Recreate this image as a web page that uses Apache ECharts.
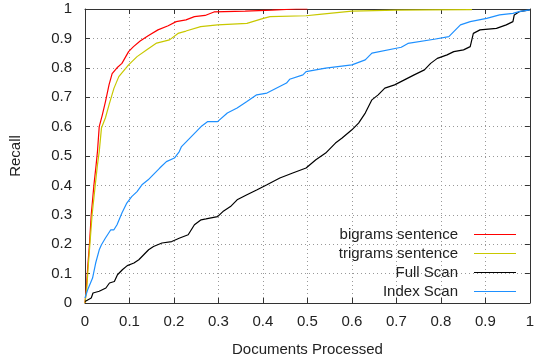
<!DOCTYPE html>
<html>
<head>
<meta charset="utf-8">
<script src="https://cdn.jsdelivr.net/npm/echarts@6/dist/echarts.min.js"></script>
<style>
  html, body { margin: 0; padding: 0; background: #fff; }
  #chart { width: 537px; height: 364px; }
</style>
</head>
<body>
<div id="chart"></div>
<script>
// recall vs fraction of documents processed, [x, y]
var bigramsData = [[0,0],[0.003,0.05],[0.006,0.12],[0.01,0.2],[0.014,0.3],[0.02,0.4],[0.025,0.47],[0.028,0.515],[0.032,0.6],[0.039,0.64],[0.046,0.685],[0.054,0.742],[0.061,0.78],[0.072,0.8],[0.083,0.815],[0.098,0.855],[0.109,0.872],[0.124,0.891],[0.142,0.909],[0.164,0.929],[0.187,0.943],[0.205,0.957],[0.227,0.963],[0.246,0.974],[0.27,0.978],[0.29,0.99],[0.36,0.993],[0.42,0.996],[0.475,1],[0.5,1]];
var trigramsData = [[0,0],[0.004,0.05],[0.007,0.12],[0.011,0.2],[0.016,0.3],[0.023,0.4],[0.028,0.47],[0.032,0.515],[0.037,0.595],[0.046,0.63],[0.054,0.674],[0.065,0.73],[0.076,0.77],[0.098,0.81],[0.117,0.838],[0.139,0.861],[0.161,0.884],[0.19,0.895],[0.209,0.917],[0.227,0.925],[0.26,0.94],[0.298,0.946],[0.364,0.951],[0.401,0.968],[0.416,0.974],[0.497,0.977],[0.527,0.982],[0.6,0.993],[0.7,0.996],[0.77,0.997],[0.87,0.998]];
var fullScanData = [[0,0.005],[0.014,0.017],[0.018,0.034],[0.032,0.04],[0.047,0.051],[0.055,0.068],[0.066,0.073],[0.073,0.096],[0.084,0.113],[0.095,0.127],[0.11,0.136],[0.121,0.147],[0.132,0.164],[0.143,0.181],[0.154,0.192],[0.173,0.204],[0.195,0.209],[0.213,0.221],[0.232,0.232],[0.246,0.266],[0.261,0.283],[0.272,0.286],[0.298,0.294],[0.31,0.311],[0.327,0.328],[0.342,0.351],[0.364,0.368],[0.387,0.385],[0.409,0.402],[0.438,0.425],[0.467,0.442],[0.497,0.459],[0.519,0.487],[0.541,0.51],[0.563,0.544],[0.578,0.561],[0.6,0.589],[0.615,0.612],[0.63,0.646],[0.645,0.691],[0.659,0.708],[0.674,0.731],[0.696,0.742],[0.718,0.759],[0.74,0.776],[0.763,0.793],[0.777,0.815],[0.792,0.832],[0.814,0.844],[0.829,0.855],[0.851,0.861],[0.866,0.872],[0.873,0.917],[0.888,0.929],[0.925,0.934],[0.947,0.946],[0.962,0.957],[0.965,0.98],[0.976,0.991],[1,0.997]];
var indexScanData = [[0,0.017],[0.006,0.045],[0.017,0.085],[0.024,0.136],[0.032,0.181],[0.037,0.198],[0.046,0.221],[0.058,0.249],[0.065,0.249],[0.072,0.266],[0.083,0.306],[0.094,0.34],[0.105,0.362],[0.117,0.379],[0.128,0.402],[0.142,0.419],[0.153,0.436],[0.168,0.459],[0.183,0.481],[0.201,0.493],[0.212,0.515],[0.217,0.532],[0.239,0.566],[0.261,0.6],[0.276,0.617],[0.298,0.617],[0.32,0.646],[0.342,0.663],[0.364,0.685],[0.386,0.708],[0.409,0.714],[0.431,0.731],[0.453,0.748],[0.46,0.761],[0.49,0.776],[0.497,0.787],[0.541,0.799],[0.6,0.81],[0.63,0.827],[0.645,0.85],[0.711,0.87],[0.726,0.883],[0.785,0.897],[0.818,0.906],[0.829,0.923],[0.844,0.946],[0.866,0.957],[0.903,0.968],[0.932,0.98],[0.962,0.985],[0.976,0.991],[1,0.997]];

var seriesNames = ['bigrams sentence', 'trigrams sentence', 'Full Scan', 'Index Scan'];
var seriesColors = ['#ff0000', '#c8c800', '#000000', '#1e90ff'];
var seriesData = [bigramsData, trigramsData, fullScanData, indexScanData];

var myChart = echarts.init(document.getElementById('chart'));

function fmt(v) {
    return String(Math.round(v * 10) / 10);
}

var labelFont = {fontFamily: 'Liberation Sans, Arial, sans-serif', fontSize: 15, color: '#222'};

function axisBase(extra) {
    var ax = {
        type: 'value',
        min: 0,
        max: 1,
        interval: 0.1,
        axisLine: {show: true, onZero: false, lineStyle: {color: '#333', width: 1}},
        axisTick: {show: true, inside: true, length: 5, lineStyle: {color: '#333'}},
        splitLine: {show: false}
    };
    for (var k in extra) ax[k] = extra[k];
    return ax;
}

var series = [];
var legendData = [];
for (var i = 0; i < seriesNames.length; i++) {
    series.push({
        name: seriesNames[i],
        type: 'line',
        data: seriesData[i],
        symbol: 'none',
        animation: false,
        lineStyle: {color: seriesColors[i], width: 1.2},
        itemStyle: {color: seriesColors[i]}
    });
    legendData.push({
        name: seriesNames[i],
        itemStyle: {color: seriesColors[i], borderWidth: 0, opacity: 1}
    });
}

var option = {
    backgroundColor: '#fff',
    animation: false,
    grid: {left: 82, top: 9, right: 3, bottom: 61, containLabel: false},
    legend: {
        orient: 'vertical',
        align: 'right',
        right: 16,
        top: 222,
        itemWidth: 42,
        itemHeight: 14,
        itemGap: 4,
        // thin line sample, degenerate segments keep the box 42x14
        icon: 'path://M0,0L0,0M0,6.4L42,6.4L42,7.6L0,7.6ZM42,14L42,14',
        data: legendData,
        textStyle: {
            fontFamily: 'Liberation Sans, Arial, sans-serif',
            fontSize: 15,
            color: '#222',
            width: 135,
            align: 'right',
            padding: [0, 11, 0, 0]
        }
    },
    xAxis: [
        axisBase({
            position: 'bottom',
            name: 'Documents Processed',
            nameLocation: 'middle',
            nameGap: 39,
            nameTextStyle: labelFont,
            axisLabel: {margin: 11, formatter: fmt, fontFamily: labelFont.fontFamily, fontSize: 15, color: '#222'},
            splitLine: {show: true, lineStyle: {color: '#999', type: [1, 3], width: 1}}
        }),
        axisBase({position: 'top', axisLabel: {show: false}})
    ],
    yAxis: [
        axisBase({
            position: 'left',
            name: 'Recall',
            nameLocation: 'middle',
            nameGap: 62,
            nameTextStyle: labelFont,
            axisLabel: {margin: 13, formatter: fmt, fontFamily: labelFont.fontFamily, fontSize: 15, color: '#222'},
            splitLine: {show: true, lineStyle: {color: '#999', type: [1, 3], width: 1}}
        }),
        axisBase({position: 'right', axisLabel: {show: false}})
    ],
    series: series
};

myChart.setOption(option);
</script>
</body>
</html>
